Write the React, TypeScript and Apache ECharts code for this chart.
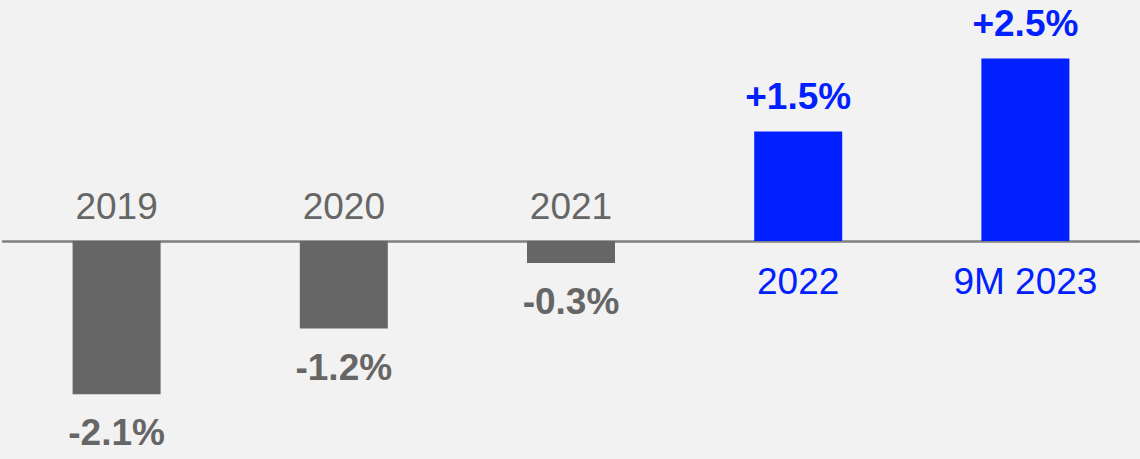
import React, { useEffect, useRef } from "react";
import * as echarts from "echarts";

const categories = ["2019", "2020", "2021", "2022", "9M 2023"];
const values = [-2.1, -1.2, -0.3, 1.5, 2.5];
const valueLabels = ["-2.1%", "-1.2%", "-0.3%", "+1.5%", "+2.5%"];

const GREY = "#666666";
const BLUE = "#0020ff";
const FONT = "'Liberation Sans', Arial, sans-serif";

export default function App() {
  const ref = useRef<HTMLDivElement>(null);
  useEffect(() => {
    document.body.style.margin = "0";
    const chart = echarts.init(ref.current!, null, { renderer: "svg" });
    const barData = values.map((v, i) => {
      const pos = v >= 0;
      const c = pos ? BLUE : GREY;
      return {
        value: v,
        itemStyle: { color: c },
        label: {
          show: true,
          position: pos ? "top" : "bottom",
          distance: pos ? 17 : 20,
          formatter: valueLabels[i],
          color: c,
          fontSize: 37,
          fontWeight: "bold",
          fontFamily: FONT,
        },
      };
    });
    const catData = values.map((v, i) => {
      const pos = v >= 0;
      const c = pos ? BLUE : GREY;
      return {
        value: [i, 0],
        label: {
          show: true,
          position: pos ? "bottom" : "top",
          distance: pos ? 21 : 16,
          formatter: categories[i],
          color: c,
          opacity: 1,
          fontSize: 37,
          fontFamily: FONT,
        },
      };
    });
    chart.setOption({
      animation: false,
      backgroundColor: "#f2f2f2",
      grid: { left: 3, right: 1, top: 22, bottom: 13.6 },
      xAxis: {
        type: "category",
        data: categories,
        axisLine: { show: true, onZero: true, lineStyle: { color: "#7f7f7f", width: 2.5 } },
        axisTick: { show: false },
        axisLabel: { show: false },
        splitLine: { show: false },
      },
      yAxis: {
        type: "value",
        min: -2.8,
        max: 3,
        show: false,
        splitLine: { show: false },
      },
      series: [
        {
          type: "bar",
          data: barData,
          barWidth: 88,
          z: 1,
        },
        {
          type: "scatter",
          data: catData,
          symbolSize: 1,
          itemStyle: { color: "rgba(0,0,0,0)", opacity: 1 },
          silent: true,
          z: 3,
        },
      ],
    });
    return () => chart.dispose();
  }, []);
  return (
    <div
      ref={ref}
      style={{ position: "fixed", left: 0, top: 0, width: 1140, height: 459 }}
    />
  );
}
